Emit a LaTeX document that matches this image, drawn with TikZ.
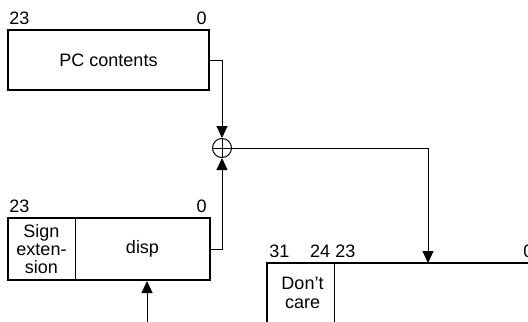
\documentclass[tikz,border=0pt]{standalone}
\usepackage{fontspec}
\setmainfont{Liberation Sans}
\usetikzlibrary{arrows.meta}
\usetikzlibrary{calc}

\tikzset{
  regbox/.style={draw, line width=1pt, inner sep=0pt},
  field/.style={inner sep=0pt, align=center},
  bitnum/.style={inner sep=0pt},
  link/.style={line width=0.5pt, -{Triangle[width=5.5pt,length=6pt]}},
}

\begin{document}
\begin{tikzpicture}[x=0.5pt,y=-0.5pt,font=\fontsize{9}{9.2}\selectfont]
		\useasboundingbox (0,0) rectangle (528,321);
		\clip (0,0) rectangle (528,321);
		% PC register
		\node[regbox, minimum width=100.5pt, minimum height=30pt] (pc) at (108.5,60){PC contents};
		\node[bitnum, anchor=base west] (pchi) at (9,24){23};
		\node[bitnum, anchor=base east] (pclo) at (207,24){0};
		% displacement register
		\node[regbox, minimum width=101pt, minimum height=31pt] (disp) at (109,249){};
		\draw[line width=0.5pt](75,218)--(75,280);
		\node[field] (sign) at (41.5,249){Sign\\exten-\\sion};
		\node[field] (dval) at (142.5,249){disp};
		\node[bitnum, anchor=base west] (dhi) at (9,212){23};
		\node[bitnum, anchor=base east] (dlo) at (207,212){0};
		%
		\node[draw, circle, line width=0.5pt, minimum size=9.5pt, inner sep=0pt] (sum) at (222,148){};
		\draw[line width=0.5pt](sum.north)--(sum.south) (sum.west)--(sum.east);
		% result register
		\draw[line width=1pt](267,330)|-(540,263);
		\draw[line width=0.5pt](334,263)--(334,330);
		\node[field] (dc) at (302.5,293){Don’t\\care};
		\node[bitnum, anchor=base west] (r31) at (269,257){31};
		\node[bitnum, anchor=base east] (r24) at (330.5,257){24};
		\node[bitnum, anchor=base west] (r23) at (335,257){23};
		\node[bitnum, anchor=base west] (r0) at (523,257){0};
		\coordinate (dest) at (428,263);
		\coordinate (dsrc) at (147,330);
		% connectors
		\draw[link](pc.east)-|(sum.north);
		\draw[link](disp.east)-|(sum.south);
		\draw[link](sum.east)-|(dest);
		\draw[link](dsrc)--(dsrc |- disp.south);
	\end{tikzpicture}
\end{document}
